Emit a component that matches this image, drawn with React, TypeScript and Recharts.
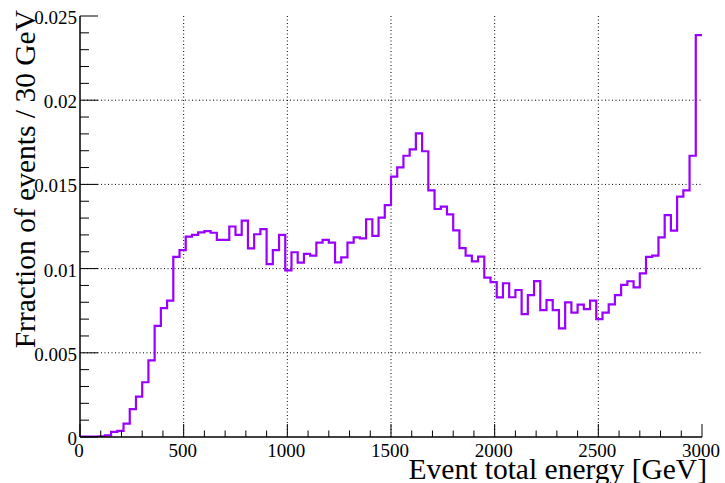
import React from "react";
import { LineChart, Line, XAxis, YAxis, ReferenceLine, Label } from "recharts";

// Histogram: fraction of events per 30 GeV bin (100 bins, 0–3000 GeV)
const binWidth = 30;
const binValues: number[] = [
  0.00002, 0.00002, 0.00003, 0.00004, 0.0001, 0.0003, 0.00036, 0.0008, 0.00165, 0.0024,
  0.00325, 0.00455, 0.0066, 0.00765, 0.0081, 0.0107, 0.0111, 0.0119, 0.012, 0.01215,
  0.01223, 0.01213, 0.0117, 0.0117, 0.0125, 0.012, 0.01285, 0.0112, 0.01204, 0.01235,
  0.01027, 0.0111, 0.012, 0.0099, 0.01097, 0.01035, 0.01087, 0.01077, 0.01154, 0.0117,
  0.01154, 0.01037, 0.01067, 0.01154, 0.01186, 0.0118, 0.01293, 0.01194, 0.01303, 0.01377,
  0.01546, 0.01601, 0.0167, 0.01708, 0.01803, 0.01697, 0.01465, 0.01354, 0.01368, 0.01322,
  0.01227, 0.01122, 0.01077, 0.01043, 0.01071, 0.00946, 0.0092, 0.00829, 0.00913, 0.0083,
  0.00873, 0.0073, 0.00843, 0.00926, 0.00754, 0.00813, 0.00754, 0.00645, 0.008, 0.00738,
  0.00786, 0.00759, 0.0081, 0.007, 0.00738, 0.00788, 0.00843, 0.00903, 0.00925, 0.00889,
  0.00972, 0.0107, 0.01077, 0.01185, 0.01317, 0.01225, 0.01427, 0.01465, 0.0167, 0.02387,
];

const xMajorTicks = [0, 500, 1000, 1500, 2000, 2500, 3000];
const xAllTicks = [
  0, 100, 200, 300, 400, 500, 600, 700, 800, 900, 1000, 1100, 1200, 1300, 1400, 1500,
  1600, 1700, 1800, 1900, 2000, 2100, 2200, 2300, 2400, 2500, 2600, 2700, 2800, 2900, 3000,
];
const yMajorTicks = [0, 0.005, 0.01, 0.015, 0.02, 0.025];
const yAllTicks = [
  0, 0.001, 0.002, 0.003, 0.004, 0.005, 0.006, 0.007, 0.008, 0.009, 0.01, 0.011, 0.012,
  0.013, 0.014, 0.015, 0.016, 0.017, 0.018, 0.019, 0.02, 0.021, 0.022, 0.023, 0.024, 0.025,
];
const xGrid = [500, 1000, 1500, 2000, 2500];
const yGrid = [0.005, 0.01, 0.015, 0.02];

const xTitle = "Event total energy [GeV]";
const yTitle = "Frraction of events / 30 GeV";

const data = [
  ...binValues.map((v, i) => ({ e: i * binWidth, f: v })),
  { e: binValues.length * binWidth, f: binValues[binValues.length - 1] },
];

const FONT = "'Liberation Serif', 'Times New Roman', serif";
const isMajor = (v: number, list: number[]) => list.some((m) => Math.abs(m - v) < 1e-9);
const fmtY = (v: number) => String(Number(v.toFixed(3)));

const BottomTick = (props: any) => {
  const { x, y, payload } = props;
  const major = isMajor(payload.value, xMajorTicks);
  return (
    <g>
      <line x1={x} x2={x} y1={y} y2={y - (major ? 13 : 6.5)} stroke="#000" strokeWidth={1} />
      {major && (
        <text x={x - 1} y={y + 20} textAnchor="middle" fontSize={19} fontFamily={FONT} fill="#000">
          {payload.value}
        </text>
      )}
    </g>
  );
};

const TopTick = (props: any) => {
  const { x, y, payload } = props;
  const major = isMajor(payload.value, xMajorTicks);
  return <line x1={x} x2={x} y1={y} y2={y + (major ? 13 : 6.5)} stroke="#000" strokeWidth={1} />;
};

const LeftTick = (props: any) => {
  const { x, y, payload } = props;
  const major = isMajor(payload.value, yMajorTicks);
  return (
    <g>
      <line x1={x} x2={x + (major ? 18 : 9)} y1={y} y2={y} stroke="#000" strokeWidth={1} />
      {major && (
        <text x={x - 3} y={y + 8} textAnchor="end" fontSize={19} fontFamily={FONT} fill="#000">
          {fmtY(payload.value)}
        </text>
      )}
    </g>
  );
};

const RightTick = (props: any) => {
  const { x, y, payload } = props;
  const major = isMajor(payload.value, yMajorTicks);
  return <line x1={x} x2={x - (major ? 18 : 9)} y1={y} y2={y} stroke="#000" strokeWidth={1} />;
};

export default function App() {
  return (
    <div style={{ position: "absolute", left: 0, top: 0, width: 725, height: 483, background: "#fff" }}>
      <LineChart
        width={725}
        height={483}
        data={data}
        margin={{ top: 16, right: 23, left: 0, bottom: 0 }}
      >
        <XAxis
          dataKey="e"
          type="number"
          domain={[0, 3000]}
          ticks={xAllTicks}
          interval={0}
          allowDataOverflow
          height={46}
          tickSize={0}
          tickMargin={0}
          tickLine={false}
          tick={<BottomTick />}
          axisLine={{ stroke: "#000", strokeWidth: 1.5 }}
        >
          <Label
            content={(p: any) => {
              const vb = p.viewBox;
              return (
                <text
                  x={vb.x + vb.width + 5}
                  y={vb.y + 42}
                  textAnchor="end"
                  fontSize={29.5}
                  fontFamily={FONT}
                  fill="#000"
                >
                  {xTitle}
                </text>
              );
            }}
          />
        </XAxis>
        <XAxis
          xAxisId="top"
          orientation="top"
          type="number"
          dataKey="e"
          domain={[0, 3000]}
          ticks={xAllTicks}
          interval={0}
          allowDataOverflow
          height={0}
          tickSize={0}
          tickMargin={0}
          tickLine={false}
          tick={<TopTick />}
          axisLine={{ stroke: "#000", strokeWidth: 1.5 }}
        />
        <YAxis
          type="number"
          domain={[0, 0.025]}
          ticks={yAllTicks}
          interval={0}
          allowDataOverflow
          width={80}
          tickSize={0}
          tickMargin={0}
          tickLine={false}
          tick={<LeftTick />}
          axisLine={{ stroke: "#000", strokeWidth: 1.5 }}
        >
          <Label
            content={(p: any) => {
              const vb = p.viewBox;
              const tx = vb.x + 35;
              const ty = vb.y - 6;
              return (
                <text
                  x={tx}
                  y={ty}
                  transform={`rotate(-90, ${tx}, ${ty})`}
                  textAnchor="end"
                  fontSize={29.5}
                  fontFamily={FONT}
                  fill="#000"
                >
                  {yTitle}
                </text>
              );
            }}
          />
        </YAxis>
        <YAxis
          yAxisId="right"
          orientation="right"
          type="number"
          domain={[0, 0.025]}
          ticks={yAllTicks}
          interval={0}
          allowDataOverflow
          width={0}
          tickSize={0}
          tickMargin={0}
          tickLine={false}
          tick={<RightTick />}
          axisLine={{ stroke: "#000", strokeWidth: 1.5 }}
        />
        {xGrid.map((v) => (
          <ReferenceLine key={"gx" + v} x={v} stroke="#000" strokeWidth={1} strokeDasharray="1 2.5" />
        ))}
        {yGrid.map((v) => (
          <ReferenceLine key={"gy" + v} y={v} stroke="#000" strokeWidth={1} strokeDasharray="1 2.5" />
        ))}
        <Line
          type="stepAfter"
          dataKey="f"
          stroke="#9900ff"
          strokeWidth={2.2}
          dot={false}
          activeDot={false}
          isAnimationActive={false}
        />
      </LineChart>
    </div>
  );
}
